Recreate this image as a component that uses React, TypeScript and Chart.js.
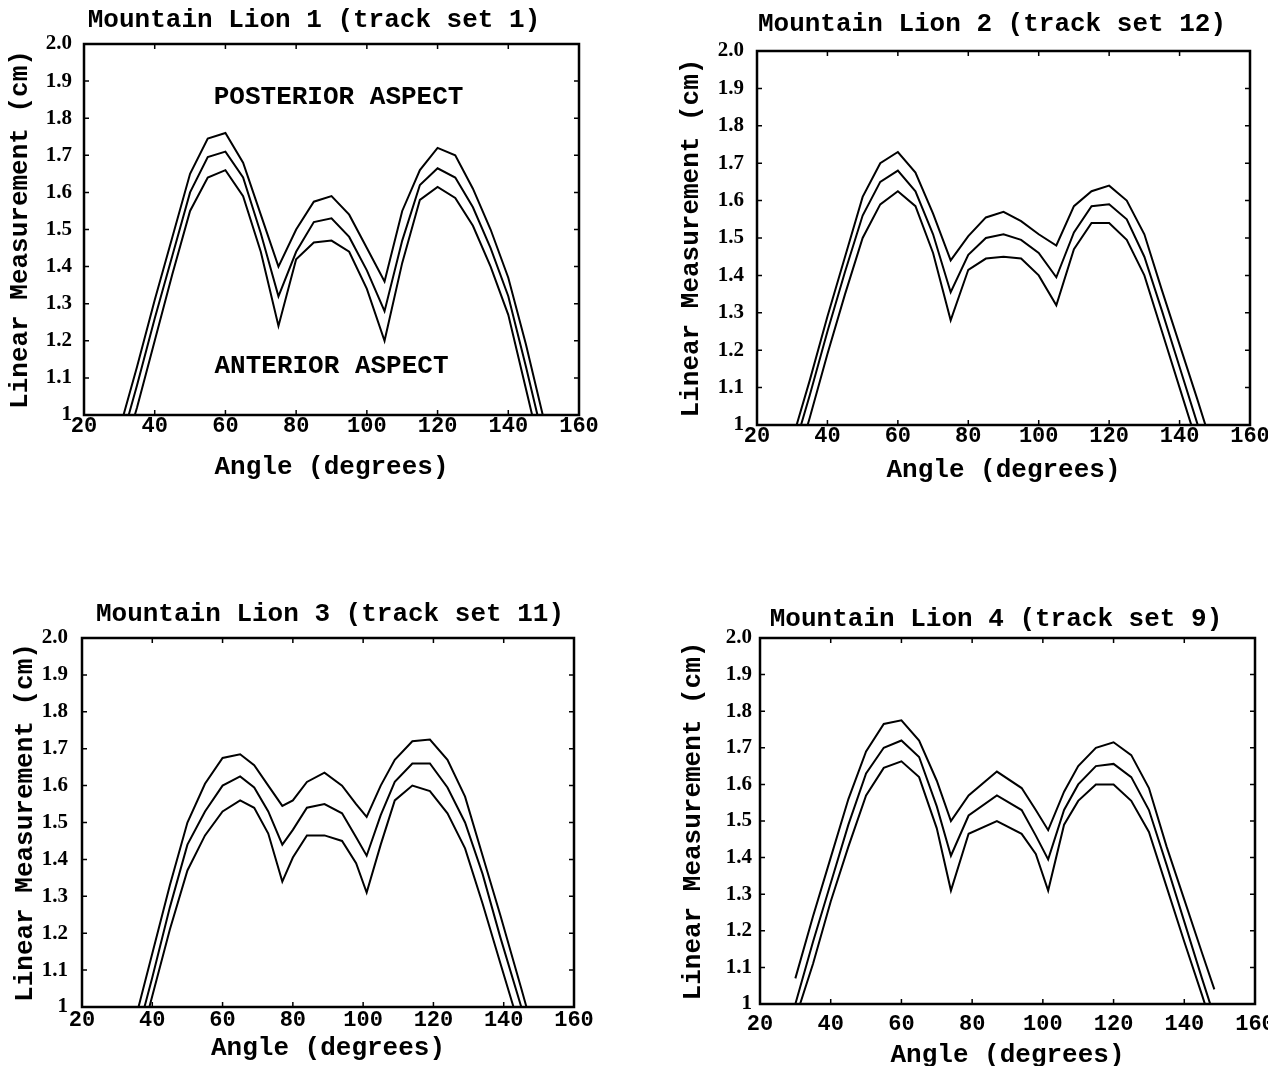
import React, { useEffect, useRef } from "react";
import { Chart, registerables } from "chart.js";

Chart.register(...registerables);

// ---------- data ----------
const xMin = 20;
const xMax = 160;
const xStep = 20;
const yTickLabels = ["1", "1.1", "1.2", "1.3", "1.4", "1.5", "1.6", "1.7", "1.8", "1.9", "2.0"];

const lion1Angles = [30, 35, 40, 45, 50, 55, 60, 65, 70, 75, 80, 85, 90, 95, 100, 105, 110, 115, 120, 125, 130, 135, 140, 145, 150];
const lion1Upper = [0.96, 1.13, 1.31, 1.48, 1.65, 1.745, 1.76, 1.68, 1.54, 1.40, 1.50, 1.575, 1.59, 1.54, 1.45, 1.36, 1.55, 1.66, 1.72, 1.70, 1.61, 1.50, 1.37, 1.19, 0.99];
const lion1Mean = [0.91, 1.08, 1.26, 1.43, 1.60, 1.695, 1.71, 1.64, 1.49, 1.32, 1.44, 1.52, 1.53, 1.48, 1.39, 1.28, 1.47, 1.62, 1.665, 1.64, 1.56, 1.45, 1.32, 1.13, 0.93];
const lion1Lower = [0.86, 1.02, 1.20, 1.38, 1.55, 1.64, 1.66, 1.59, 1.44, 1.24, 1.42, 1.465, 1.47, 1.44, 1.34, 1.20, 1.41, 1.58, 1.615, 1.585, 1.51, 1.40, 1.27, 1.07, 0.87];

const lion2Angles = [30, 35, 40, 45, 50, 55, 60, 65, 70, 75, 80, 85, 90, 95, 100, 105, 110, 115, 120, 125, 130, 135, 140, 145, 150];
const lion2Upper = [0.96, 1.12, 1.29, 1.45, 1.61, 1.70, 1.73, 1.675, 1.565, 1.44, 1.505, 1.555, 1.57, 1.545, 1.51, 1.48, 1.585, 1.625, 1.64, 1.60, 1.51, 1.36, 1.215, 1.07, 0.92];
const lion2Mean = [0.92, 1.08, 1.25, 1.41, 1.56, 1.65, 1.68, 1.625, 1.51, 1.355, 1.455, 1.50, 1.51, 1.495, 1.46, 1.395, 1.515, 1.585, 1.59, 1.55, 1.45, 1.305, 1.155, 1.005, 0.85];
const lion2Lower = [0.86, 1.02, 1.19, 1.35, 1.50, 1.59, 1.625, 1.585, 1.46, 1.28, 1.415, 1.445, 1.45, 1.445, 1.40, 1.32, 1.47, 1.54, 1.54, 1.495, 1.40, 1.25, 1.10, 0.95, 0.80];

const lion3Angles = [30, 35, 40, 45, 50, 55, 60, 65, 69, 73, 77, 80, 84, 89, 94, 98, 101, 105, 109, 114, 119, 124, 129, 134, 139, 145, 150];
const lion3Upper = [0.78, 0.96, 1.145, 1.33, 1.50, 1.605, 1.675, 1.685, 1.655, 1.60, 1.545, 1.56, 1.61, 1.635, 1.60, 1.55, 1.515, 1.60, 1.67, 1.72, 1.725, 1.67, 1.57, 1.41, 1.25, 1.05, 0.88];
const lion3Mean = [0.71, 0.90, 1.08, 1.27, 1.44, 1.53, 1.60, 1.625, 1.595, 1.53, 1.44, 1.48, 1.54, 1.55, 1.525, 1.46, 1.41, 1.52, 1.61, 1.66, 1.66, 1.595, 1.50, 1.36, 1.19, 1.00, 0.84];
const lion3Lower = [0.70, 0.85, 1.03, 1.21, 1.37, 1.465, 1.53, 1.56, 1.54, 1.47, 1.34, 1.405, 1.465, 1.465, 1.45, 1.39, 1.31, 1.44, 1.56, 1.60, 1.585, 1.525, 1.43, 1.28, 1.12, 0.93, 0.77];

const lion4Angles = [30, 35, 40, 45, 50, 55, 60, 65, 70, 74, 79, 87, 94, 98, 101.5, 106, 110, 115, 120, 125, 130, 135, 140, 145, 148.5];
const lion4Upper = [1.07, 1.24, 1.40, 1.56, 1.69, 1.765, 1.775, 1.72, 1.61, 1.50, 1.57, 1.635, 1.59, 1.53, 1.475, 1.58, 1.65, 1.70, 1.715, 1.68, 1.59, 1.43, 1.285, 1.14, 1.04];
const lion4Mean = [1.00, 1.17, 1.33, 1.49, 1.63, 1.70, 1.72, 1.675, 1.54, 1.405, 1.515, 1.57, 1.53, 1.46, 1.395, 1.53, 1.60, 1.65, 1.656, 1.62, 1.53, 1.38, 1.225, 1.07, 0.965];
const lion4Lower = [0.96, 1.11, 1.28, 1.43, 1.57, 1.645, 1.663, 1.62, 1.48, 1.31, 1.465, 1.50, 1.465, 1.41, 1.31, 1.49, 1.555, 1.60, 1.60, 1.555, 1.47, 1.32, 1.17, 1.025, 0.92];

const panelTitles = [
  "Mountain Lion 1 (track set 1)",
  "Mountain Lion 2 (track set 12)",
  "Mountain Lion 3 (track set 11)",
  "Mountain Lion 4 (track set 9)",
];
const xAxisTitle = "Angle (degrees)";
const yAxisTitle = "Linear Measurement (cm)";

const lion1Notes = ["POSTERIOR ASPECT", "ANTERIOR ASPECT"];
const lion1NoteAngles = [92, 90];
const lion1NoteValues = [1.857, 1.132];

// ---------- styling ----------
const MONO = '"Liberation Mono", "DejaVu Sans Mono", monospace';
const SERIF = '"Liberation Serif", "DejaVu Serif", serif';
const INK = "#000";

type Layout = {
  left: number; top: number; width: number; height: number;
  pad: { left: number; right: number; top: number; bottom: number };
  titleX: number; titleY: number; yW: number; xH: number; xTickPad: number; yTickPad: number;
};

type PanelSpec = {
  title: string;
  angles: number[];
  series: number[][];
  notes?: { texts: string[]; xs: number[]; ys: number[] };
  layout: Layout;
};

const panels: PanelSpec[] = [
  {
    title: panelTitles[0],
    angles: lion1Angles,
    series: [lion1Upper, lion1Mean, lion1Lower],
    notes: { texts: lion1Notes, xs: lion1NoteAngles, ys: lion1NoteValues },
    layout: { left: 0, top: 0, width: 634, height: 490, pad: { left: 7, right: 55, top: 44, bottom: 10 }, titleX: 314, titleY: 20, yW: 77, xH: 65, xTickPad: 0, yTickPad: 12 },
  },
  {
    title: panelTitles[1],
    angles: lion2Angles,
    series: [lion2Upper, lion2Mean, lion2Lower],
    layout: { left: 640, top: 0, width: 660, height: 493, pad: { left: 38, right: 50, top: 51, bottom: 10 }, titleX: 352, titleY: 24, yW: 79, xH: 58, xTickPad: 0, yTickPad: 13 },
  },
  {
    title: panelTitles[2],
    angles: lion3Angles,
    series: [lion3Upper, lion3Mean, lion3Lower],
    layout: { left: 0, top: 590, width: 634, height: 476, pad: { left: 12, right: 60, top: 48, bottom: 5 }, titleX: 330, titleY: 24, yW: 70, xH: 54, xTickPad: 2, yTickPad: 14 },
  },
  {
    title: panelTitles[3],
    angles: lion4Angles,
    series: [lion4Upper, lion4Mean, lion4Lower],
    layout: { left: 664, top: 590, width: 640, height: 480, pad: { left: 16, right: 49, top: 48, bottom: 2 }, titleX: 332, titleY: 29, yW: 80, xH: 64, xTickPad: 9, yTickPad: 8 },
  },
];

const framePlugin = {
  id: "frameTicks",
  afterDraw(chart: any) {
    const { ctx, chartArea, scales } = chart;
    const { left, right, top, bottom } = chartArea;
    ctx.save();
    ctx.strokeStyle = INK;
    ctx.lineWidth = 2.5;
    ctx.strokeRect(left, top, right - left, bottom - top);
    ctx.lineWidth = 1.5;
    ctx.beginPath();
    scales.x.ticks.forEach((t: any) => {
      const px = scales.x.getPixelForValue(t.value);
      ctx.moveTo(px, bottom); ctx.lineTo(px, bottom - 5);
      ctx.moveTo(px, top); ctx.lineTo(px, top + 5);
    });
    scales.y.ticks.forEach((t: any) => {
      const py = scales.y.getPixelForValue(t.value);
      ctx.moveTo(left, py); ctx.lineTo(left + 5, py);
      ctx.moveTo(right, py); ctx.lineTo(right - 5, py);
    });
    ctx.stroke();
    ctx.restore();
  },
};

function textPlugin(spec: PanelSpec) {
  return {
    id: "panelText",
    afterDraw(chart: any) {
      const { ctx, scales } = chart;
      ctx.save();
      ctx.fillStyle = INK;
      ctx.textAlign = "center";
      ctx.textBaseline = "middle";
      ctx.font = `bold 26px ${MONO}`;
      ctx.fillText(spec.title, spec.layout.titleX, spec.layout.titleY);
      const notes = spec.notes;
      if (notes) {
        ctx.font = `bold 26px ${MONO}`;
        notes.texts.forEach((t, i) => {
          ctx.fillText(t, scales.x.getPixelForValue(notes.xs[i]), scales.y.getPixelForValue(notes.ys[i]));
        });
      }
      ctx.restore();
    },
  };
}

function Panel({ spec }: { spec: PanelSpec }) {
  const ref = useRef<HTMLCanvasElement>(null);
  const L = spec.layout;
  useEffect(() => {
    if (!ref.current) return;
    const titleFont = { family: MONO, size: 26, weight: "bold" as const, lineHeight: 1 };
    const chart = new Chart(ref.current, {
      type: "line",
      data: {
        datasets: spec.series.map((s) => ({
          data: spec.angles.map((a, i) => ({ x: a, y: s[i] })),
          borderColor: INK,
          borderWidth: 2,
          pointRadius: 0,
          fill: false,
          tension: 0,
        })),
      },
      options: {
        animation: false,
        responsive: false,
        devicePixelRatio: 1,
        layout: { padding: L.pad },
        plugins: {
          legend: { display: false },
          tooltip: { enabled: false },
          title: { display: false },
        },
        scales: {
          x: {
            type: "linear",
            min: xMin,
            max: xMax,
            grid: { display: false, drawTicks: false },
            border: { display: false },
            ticks: {
              stepSize: xStep,
              color: INK,
              padding: L.xTickPad,
              maxRotation: 0,
              autoSkip: false,
              font: { family: MONO, size: 22, weight: "bold", lineHeight: 1 },
            },
            title: { display: true, text: xAxisTitle, color: INK, font: titleFont, padding: { top: 0, bottom: 0 } },
            afterFit: (s: any) => { s.height = L.xH; },
          },
          y: {
            type: "linear",
            min: 1,
            max: 2,
            grid: { display: false, drawTicks: false },
            border: { display: false },
            ticks: {
              stepSize: 0.1,
              color: INK,
              padding: L.yTickPad,
              autoSkip: false,
              font: { family: SERIF, size: 21, weight: "bold", lineHeight: 1 },
              callback: (_v: any, i: number) => yTickLabels[i],
            },
            title: { display: true, text: yAxisTitle, color: INK, font: titleFont, padding: { top: 0, bottom: 0 } },
            afterFit: (s: any) => { s.width = L.yW; },
          },
        },
      },
      plugins: [framePlugin, textPlugin(spec)],
    } as any);
    return () => chart.destroy();
  }, [spec]);
  return (
    <div style={{ position: "absolute", left: L.left, top: L.top, width: L.width, height: L.height }}>
      <canvas ref={ref} width={L.width} height={L.height} style={{ width: L.width, height: L.height, display: "block" }} />
    </div>
  );
}

export default function App() {
  return (
    <div style={{ position: "fixed", left: 0, top: 0, width: 1268, height: 1066, overflow: "hidden", background: "#fff" }}>
      {panels.map((p, i) => (
        <Panel key={i} spec={p} />
      ))}
    </div>
  );
}
